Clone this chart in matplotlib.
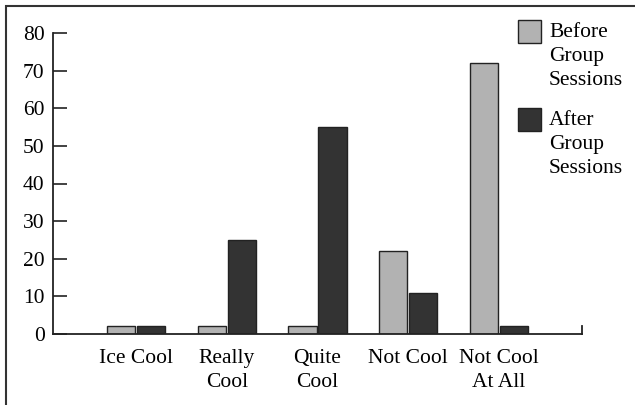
import matplotlib.pyplot as plt
import numpy as np
from matplotlib.patches import Rectangle

categories = ['Ice Cool', 'Really\nCool', 'Quite\nCool', 'Not Cool', 'Not Cool\nAt All']
before = [2, 2, 2, 22, 72]
after = [2, 25, 55, 11, 2]
series_names = ['Before\nGroup\nSessions', 'After\nGroup\nSessions']
colors = ['#b2b2b2', '#333333']
yticks = [0, 10, 20, 30, 40, 50, 60, 70, 80]

plt.rcParams['font.family'] = ['Liberation Serif', 'DejaVu Serif']
plt.rcParams['font.size'] = 15.5

W, H = 635, 405
fig = plt.figure(figsize=(W / 100, H / 100), dpi=100)
ax = fig.add_axes([53 / W, 1 - 334 / H, (582 - 53) / W, (334 - 33) / H])

x = np.arange(len(categories))
w = 0.31
off = 0.165
ax.bar(x - off, before, w, color=colors[0], edgecolor='#222222', linewidth=1)
ax.bar(x + off, after, w, color=colors[1], edgecolor='#222222', linewidth=1)

ax.set_xlim(-0.915, 4.915)
ax.set_ylim(0, 80)
ax.set_yticks(yticks)
ax.set_xticks(x)
ax.set_xticklabels(categories, linespacing=1.32)
ax.tick_params(axis='y', direction='in', length=10, width=1.2, pad=6, color='#222222')
ax.tick_params(axis='x', length=0, pad=11)

ax.spines['top'].set_visible(False)
ax.spines['right'].set_bounds(0, 2)
for s in ['left', 'bottom', 'right']:
    ax.spines[s].set_linewidth(1.3)
    ax.spines[s].set_color('#222222')

# legend drawn by hand so the box sits on the first line of text
for i, (lab, col) in enumerate(zip(series_names, colors)):
    y0 = 20 + i * 88
    fig.add_artist(Rectangle((518 / W, 1 - (y0 + 23) / H), 23 / W, 23 / H,
                             transform=fig.transFigure, facecolor=col,
                             edgecolor='#222222', linewidth=1))
    fig.text(549 / W, 1 - (y0 + 3) / H, lab, ha='left', va='top', linespacing=1.36)

# outer frame (only left and top edges are in view)
fig.add_artist(Rectangle((6 / W, -0.1), 2, 1.1 - 6 / H, transform=fig.transFigure,
                         fill=False, edgecolor='#333333', linewidth=1.5))

fig.savefig('out.png', dpi=100)
